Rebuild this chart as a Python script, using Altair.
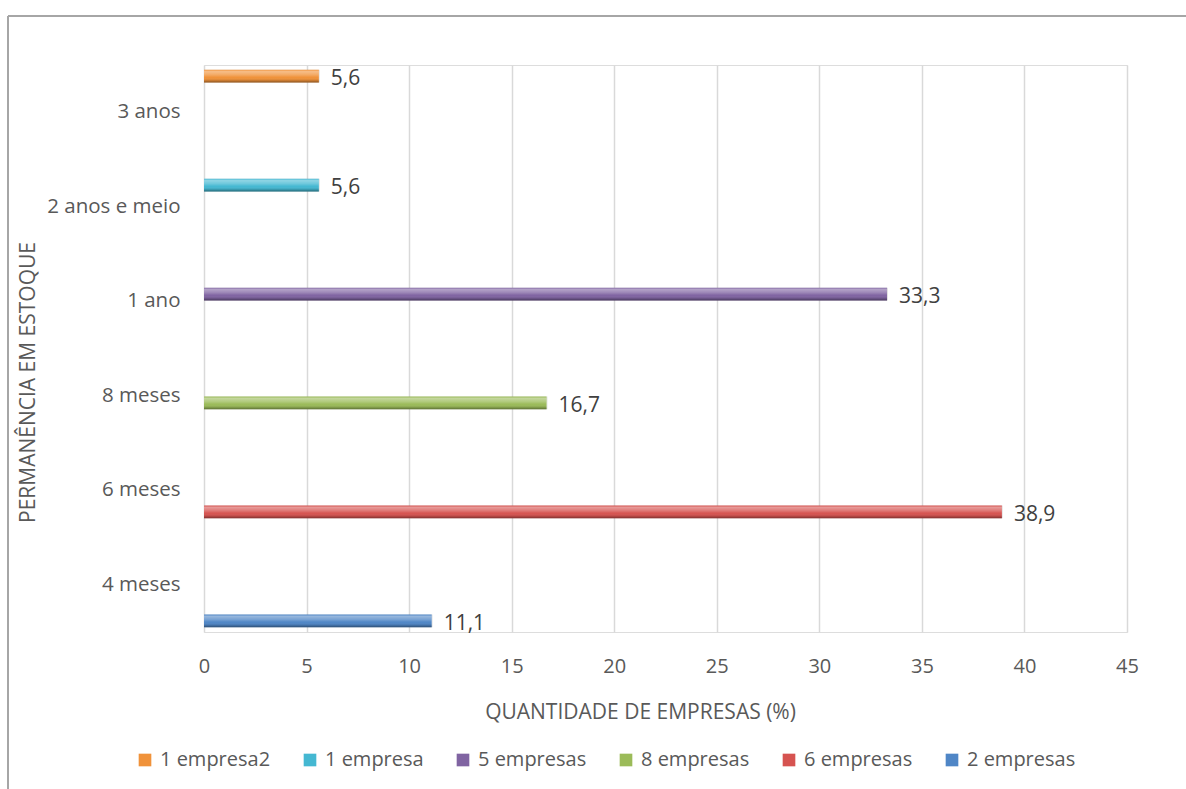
import altair as alt
import pandas as pd

# Stock-holding time per category, each answered by one group of companies
categories = ["4 meses", "6 meses", "8 meses", "1 ano", "2 anos e meio", "3 anos"]
series = ["2 empresas", "6 empresas", "8 empresas", "5 empresas", "1 empresa", "1 empresa2"]
values = [11.1, 38.9, 16.7, 33.3, 5.6, 5.6]

legend_order = ["1 empresa2", "1 empresa", "5 empresas", "8 empresas", "6 empresas", "2 empresas"]
legend_colors = ["#F0923A", "#45B8D2", "#8064A2", "#9BBB59", "#D65350", "#4F86C6"]
x_ticks = [0, 5, 10, 15, 20, 25, 30, 35, 40, 45]

df = pd.DataFrame({"cat": categories, "serie": series, "valor": values})

FONT = "Open Sans"
TXT = "#595959"

y_enc = alt.Y(
    "cat:N",
    scale=alt.Scale(domain=categories[::-1], paddingInner=0.1, paddingOuter=0.05),
    axis=alt.Axis(
        title="PERMANÊNCIA EM ESTOQUE",
        titleFont=FONT, titleFontSize=21, titleFontWeight="normal", titleColor=TXT,
        titleX=-176, titleY=317, titleAngle=270, titleAlign="center", titleBaseline="middle",
        labelFont=FONT, labelFontSize=20.5, labelColor=TXT, labelPadding=24,
        ticks=False, domain=False, grid=False,
    ),
)
yoff_enc = alt.YOffset(
    "serie:N",
    scale=alt.Scale(domain=legend_order, paddingInner=0.12, paddingOuter=0),
)
x_enc = alt.X(
    "valor:Q",
    scale=alt.Scale(domain=[0, 45], nice=False),
    axis=alt.Axis(
        values=x_ticks,
        title="QUANTIDADE DE EMPRESAS (%)",
        titleFont=FONT, titleFontSize=21, titleFontWeight="normal", titleColor=TXT,
        titleX=436, titleY=80, titleAlign="center", titleBaseline="middle",
        labelFont=FONT, labelFontSize=20, labelColor=TXT, labelPadding=24,
        labelFlush=False,
        ticks=False, domain=False,
        grid=True, gridColor="#d9d9d9", gridWidth=1.5,
    ),
)

color_enc = alt.Color(
    "serie:N",
    scale=alt.Scale(domain=legend_order, range=legend_colors),
    legend=alt.Legend(
        title=None, orient="none", direction="horizontal", columns=6,
        legendX=-69, legendY=685,
        symbolType="square", symbolSize=160, symbolStrokeWidth=0,
        labelFont=FONT, labelFontSize=20, labelColor=TXT, labelOffset=5,
        columnPadding=29,
    ),
)

base = alt.Chart(df).encode(y=y_enc, yOffset=yoff_enc, x=x_enc)

# soft drop shadow under each bar
shadow = base.mark_bar(color="#000000", opacity=0.10, yOffset=3, xOffset=1)

bars = base.mark_bar().encode(color=color_enc)

# bevel highlight / shading overlay
bevel = base.mark_bar(
    color=alt.Gradient(
        gradient="linear", x1=0, y1=0, x2=0, y2=1,
        stops=[
            alt.GradientStop(offset=0, color="rgba(255,255,255,0.05)"),
            alt.GradientStop(offset=0.15, color="rgba(255,255,255,0.40)"),
            alt.GradientStop(offset=0.4, color="rgba(255,255,255,0.22)"),
            alt.GradientStop(offset=0.6, color="rgba(255,255,255,0.0)"),
            alt.GradientStop(offset=0.82, color="rgba(0,0,0,0.12)"),
            alt.GradientStop(offset=1, color="rgba(0,0,0,0.42)"),
        ],
    )
)

labels = base.mark_text(
    align="left", baseline="middle", dx=12, dy=3,
    font=FONT, fontSize=21, color="#404040",
).transform_calculate(
    rotulo="replace(format(datum.valor, '.1f'), '.', ',')"
).encode(text="rotulo:N")

# outer frame of the chart
frame_top = alt.Chart(df).mark_rule(color="#a6a6a6", strokeWidth=1.5).encode(
    x=alt.value(-196), x2=alt.value(1000), y=alt.value(-49)
)
frame_left = alt.Chart(df).mark_rule(color="#a6a6a6", strokeWidth=1.5).encode(
    x=alt.value(-196), y=alt.value(-49), y2=alt.value(740)
)

chart = alt.layer(shadow, bars, bevel, labels, frame_top, frame_left).properties(
    width=923,
    height=567,
    autosize=alt.AutoSizeParams(type="none"),
    padding={"left": 204, "top": 65, "right": 59, "bottom": 157},
).configure_view(stroke=None).configure(font=FONT)

chart.save("out.html", embed_options={"renderer": "svg", "actions": False})
